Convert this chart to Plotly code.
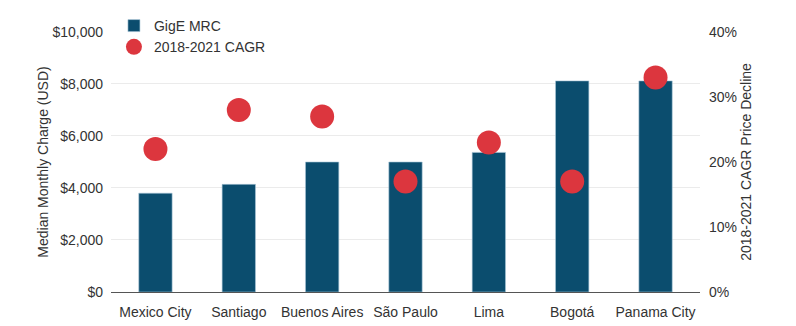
import plotly.graph_objects as go

cities = ["Mexico City", "Santiago", "Buenos Aires", "São Paulo", "Lima", "Bogotá", "Panama City"]
mrc_usd = [3800, 4140, 5000, 5000, 5370, 8120, 8120]
cagr_pct = [22, 28, 27, 17, 23, 17, 33]

left_ticks = [0, 2000, 4000, 6000, 8000, 10000]
left_tick_text = ["$0", "$2,000", "$4,000", "$6,000", "$8,000", "$10,000"]
right_ticks = [0, 10, 20, 30, 40]
right_tick_text = ["0%", "10%", "20%", "30%", "40%"]

BAR = "#0b4d6e"
DOT = "#dc363e"
TXT = "#333333"
FS = 14

fig = go.Figure()
# invisible helper trace so the grid axis is drawn
fig.add_trace(go.Scatter(x=[cities[0]], y=[0], yaxis="y3", mode="markers",
                         marker=dict(opacity=0), showlegend=False, hoverinfo="skip"))
fig.add_trace(go.Bar(
    x=cities, y=mrc_usd, name="GigE MRC",
    marker=dict(color=BAR, line=dict(color="#a9c6d6", width=0.6)),
    width=0.4, yaxis="y",
))
fig.add_trace(go.Scatter(
    x=cities, y=cagr_pct, name="2018-2021 CAGR", mode="markers",
    marker=dict(color=DOT, size=24), yaxis="y2",
))

fig.update_layout(
    width=796, height=326,
    margin=dict(l=111, r=96, t=32, b=34, autoexpand=False),
    paper_bgcolor="white", plot_bgcolor="white",
    font=dict(family="Liberation Sans, Arial, sans-serif", size=FS, color=TXT),
    showlegend=True,
    legend=dict(x=0.005, y=(292 - 10) / 260,
                xanchor="left", yanchor="top",
                bgcolor="rgba(0,0,0,0)", font=dict(size=FS, color=TXT),
                tracegroupgap=0),
    xaxis=dict(showline=True, linecolor="#555555", linewidth=1, ticks="",
               showgrid=False, ticklabelstandoff=7, tickfont=dict(size=FS, color=TXT)),
    yaxis=dict(range=[0, 10000], tickvals=left_ticks, ticktext=left_tick_text,
               showgrid=False, zeroline=False, showline=False, ticklabelstandoff=7,
               title=dict(text="Median Monthly Charge (USD)", font=dict(size=FS, color=TXT), standoff=0),
               tickfont=dict(size=FS, color=TXT)),
    yaxis2=dict(range=[0, 40], tickvals=right_ticks, ticktext=right_tick_text,
                overlaying="y", side="right", showgrid=False, zeroline=False, showline=False,
                ticklabelstandoff=8,
                title=dict(text="2018-2021 CAGR Price Decline", font=dict(size=FS, color=TXT), standoff=5),
                tickfont=dict(size=FS, color=TXT)),
    yaxis3=dict(range=[0, 9990], dtick=2000, overlaying="y", side="right", showgrid=True,
                gridcolor="#ebebeb", gridwidth=1, showticklabels=False, zeroline=False,
                showline=False, ticks=""),
)

fig.write_html("out.html")
